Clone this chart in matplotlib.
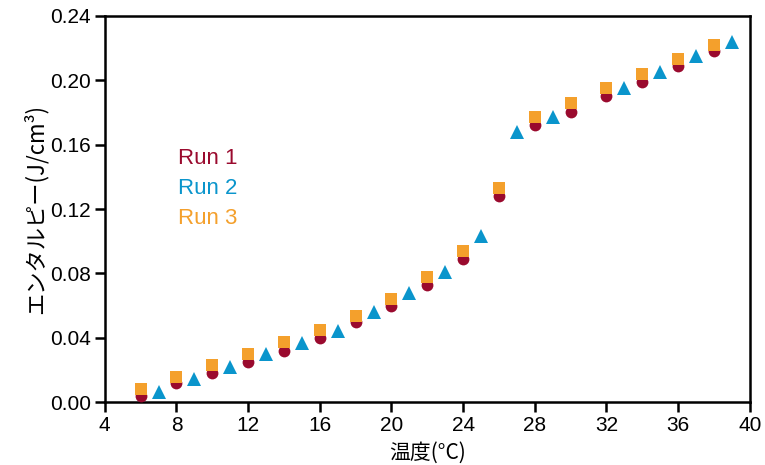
import numpy as np
import matplotlib
matplotlib.use('Agg')
import matplotlib.pyplot as plt

# Data
temp_13 = [6, 8, 10, 12, 14, 16, 18, 20, 22, 24, 26, 28, 30, 32, 34, 36, 38]
run1 = [0.004, 0.012, 0.018, 0.025, 0.032, 0.040, 0.050, 0.060, 0.073, 0.089,
        0.128, 0.172, 0.180, 0.190, 0.199, 0.209, 0.218]
run3 = [0.0085, 0.0157, 0.023, 0.030, 0.0375, 0.045, 0.0535, 0.064, 0.078, 0.094,
        0.133, 0.177, 0.186, 0.195, 0.204, 0.213, 0.222]

temp_2 = [7, 9, 11, 13, 15, 17, 19, 21, 23, 25, 27, 29, 33, 35, 37, 39]
run2 = [0.0064, 0.0147, 0.022, 0.0298, 0.037, 0.0444, 0.056, 0.068, 0.081, 0.103,
        0.168, 0.177, 0.195, 0.205, 0.215, 0.2235]

x_ticks = [4, 8, 12, 16, 20, 24, 28, 32, 36, 40]
y_ticks = [0.00, 0.04, 0.08, 0.12, 0.16, 0.20, 0.24]

COLORS = {
    'Run 1': '#9A0A2E',
    'Run 2': '#0A95CC',
    'Run 3': '#F4A02C',
}

NUM_FONT = ['Liberation Sans Narrow', 'Liberation Sans', 'DejaVu Sans']
JP_FONT = ['Noto Sans CJK JP', 'DejaVu Sans']

fig = plt.figure(figsize=(7.65, 4.65), dpi=100)
ax = fig.add_axes([0.137, 0.135, 0.843, 0.831])

ax.plot(temp_13, run1, 'o', color=COLORS['Run 1'], markersize=8.5,
        markeredgewidth=0, label='Run 1', zorder=3)
ax.plot(temp_2, run2, '^', color=COLORS['Run 2'], markersize=10,
        markeredgewidth=0, label='Run 2', zorder=3)
ax.plot(temp_13, run3, 's', color=COLORS['Run 3'], markersize=9,
        markeredgewidth=0, label='Run 3', zorder=4)

ax.set_xlim(4, 40)
ax.set_ylim(0, 0.24)
ax.set_xticks(x_ticks)
ax.set_yticks(y_ticks)
ax.set_xticklabels([str(t) for t in x_ticks], family=NUM_FONT, fontsize=15)
ax.set_yticklabels([f'{t:.2f}' for t in y_ticks], family=NUM_FONT, fontsize=15)
ax.tick_params(direction='out', length=7, width=1.8, pad=3)

for sp in ax.spines.values():
    sp.set_linewidth(1.8)

ax.set_xlabel('温度(°C)', family=JP_FONT, fontsize=15, labelpad=5)
ax.set_ylabel('エンタルピー(J/cm³)', family=JP_FONT, fontsize=16, labelpad=2)

leg = ax.legend(loc='upper left', bbox_to_anchor=(0.113, 0.657), frameon=False,
                handlelength=0, handletextpad=0, markerscale=0,
                borderpad=0, borderaxespad=0,
                labelspacing=0.4, prop={'family': NUM_FONT, 'size': 16})
for txt, h in zip(leg.get_texts(), leg.legend_handles):
    txt.set_color(COLORS[txt.get_text()])
    h.set_visible(False)

fig.savefig('out.png', dpi=100)
